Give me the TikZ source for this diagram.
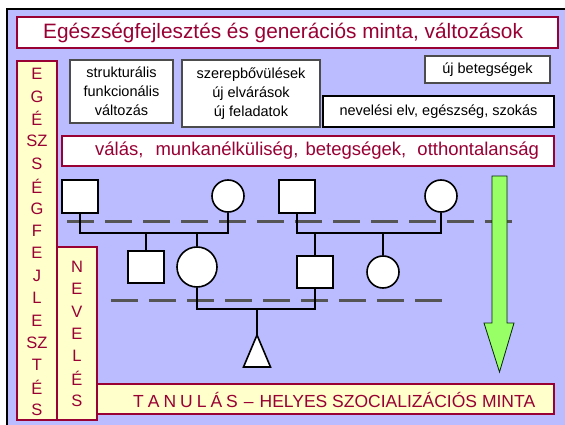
\documentclass[tikz,border=0pt]{standalone}
\usepackage{fontspec}
\setmainfont{Liberation Sans}
\definecolor{lavender}{HTML}{BBBBFF}
\definecolor{wine}{HTML}{990033}
\definecolor{cream}{HTML}{FFFFCC}
\definecolor{lime}{HTML}{99FF66}
\definecolor{dashgray}{HTML}{555555}
\begin{document}
\begin{tikzpicture}[x=1pt,y=-1pt,
  wbox/.style={draw=black!70,fill=white,line width=1.2pt,inner sep=0pt,align=center,
    font=\fontsize{14.5}{19}\selectfont},
  rbox/.style={draw=wine,fill=white,line width=1.5pt,inner sep=0pt},
  ybox/.style={draw=wine,fill=cream,line width=1.2pt,inner sep=0pt},
  rtext/.style={text=wine,inner sep=0pt,anchor=west},
  letter/.style={text=wine,inner sep=0pt,font=\fontsize{16.5}{18}\selectfont},
  psq/.style={draw,fill=white,line width=1.6pt,minimum width=36,minimum height=33,inner sep=0pt},
  pcirc/.style={draw,circle,fill=white,line width=1.6pt,minimum size=32,inner sep=0pt},
  pline/.style={line width=1.6pt},
  genline/.style={dashgray,line width=3pt,dash pattern=on 27pt off 11pt}]
\useasboundingbox (0,0) rectangle (565,425);
\fill[white] (0,0) rectangle (565,425);
\fill[lavender] (7,9) rectangle (566,426);
\draw[line width=2.5pt] (7,426) -- (7,9) -- (566,9);

% titles and boxes
\node[rbox,minimum width=541,minimum height=31] (title) at (287.5,32.5) {};
\node[rtext,font=\fontsize{20.8}{23}\selectfont] (titletext) at (43,33)
  {Egészségfejlesztés és generációs minta, változások};
\node[wbox,minimum width=103,minimum height=63] (struk) at (121.5,91.5) {strukturális\\funkcionális\\változás};
\node[wbox,minimum width=138,minimum height=67] (szerep) at (251,93.5) {szerepbővülések\\új elvárások\\új feladatok};
\node[wbox,minimum width=125,minimum height=27] (ujbeteg) at (487.5,69.5) {új betegségek};
\node[wbox,draw=black,line width=1.8pt,minimum width=231,minimum height=31] (nevelv) at (438.5,111.5) {nevelési elv, egészség, szokás};
\node[rbox,minimum width=492,minimum height=30] (valas) at (308,151) {};
\node[rtext,font=\fontsize{18.5}{20}\selectfont] (valastext) at (95,151)
  {válás,\hspace{12pt}munkanélküliség,\hspace{2pt} betegségek,\hspace{6pt} otthontalanság};

% side columns
\node[ybox,minimum width=40,minimum height=359] (egcol) at (37,240.5) {};
\node[ybox,minimum width=40,minimum height=173] (nevcol) at (77,333.5) {};
\node[ybox,minimum width=457,minimum height=30] (tanul) at (325.5,399) {};
\node[rtext,font=\fontsize{17.5}{19}\selectfont] (tanultext) at (133,399.5)
  {T\hspace{4pt}A\hspace{4pt}N\hspace{4pt}U\hspace{4pt}L\hspace{4pt}Á\hspace{4pt}S\hspace{6pt}–\hspace{6pt}HELYES SZOCIALIZÁCIÓS MINTA};
\foreach \l [count=\i] in {E,G,É,SZ,S,É,G,F,E,J,L,E,SZ,T,É,S}
  \node[letter] (eg\i) at (37,{74+22.4*(\i-1)}) {\l};
\foreach \l [count=\i] in {N,E,V,E,L,É,S}
  \node[letter] (nev\i) at (77,{267+22.3*(\i-1)}) {\l};

% generation lines
\draw[genline] (67,221) -- (520,221);
\draw[genline] (111,300) -- (443,300);

% pedigree
\node[psq] (f1) at (80,196.5) {};
\node[pcirc] (m1) at (228,196) {};
\node[psq] (f2) at (297,196.5) {};
\node[pcirc] (m2) at (441,196) {};
\node[psq,minimum height=32] (s1) at (146,267) {};
\node[pcirc,minimum size=40] (d1) at (197,267) {};
\node[psq,minimum height=32] (s2) at (315,272) {};
\node[pcirc] (d2) at (383,272) {};
\coordinate (bar1) at (0,233);
\coordinate (bar2) at (0,309);
\coordinate (tri) at (257,335);
\draw[pline] (f1.south) -- (f1.south |- bar1) -- (m1.south |- bar1) -- (m1.south);
\draw[pline] (f2.south) -- (f2.south |- bar1) -- (m2.south |- bar1) -- (m2.south);
\draw[pline] (s1.north) -- (s1.north |- bar1);
\draw[pline] (d1.north) -- (d1.north |- bar1);
\draw[pline] (s2.north) -- (s2.north |- bar1);
\draw[pline] (d2.north) -- (d2.north |- bar1);
\draw[pline] (d1.south) -- (d1.south |- bar2) -- (s2.south |- bar2) -- (s2.south);
\draw[pline] (tri |- bar2) -- (tri);
\draw[pline,fill=white] (tri) -- ++(13.5,32) -- ++(-27,0) -- cycle;

% arrow
\draw[fill=lime,draw=black!60!green!40!black,line width=0.8pt]
  (492,176) -- (507,176) -- (507,323) -- (514,323) -- (499.5,372) -- (484,323) -- (492,323) -- cycle;
\end{tikzpicture}
\end{document}
